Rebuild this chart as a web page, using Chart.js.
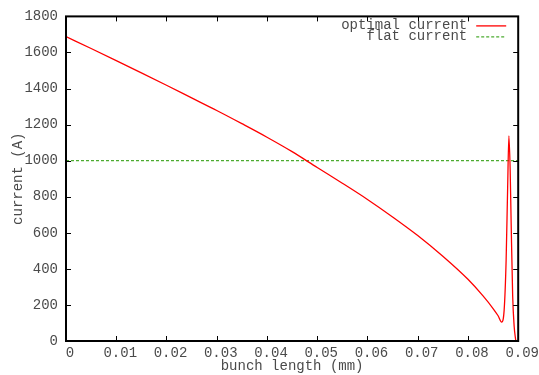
<!DOCTYPE html>
<html>
<head>
<meta charset="utf-8">
<script src="https://cdn.jsdelivr.net/npm/chart.js@4/dist/chart.umd.min.js"></script>
<style>
html,body{margin:0;padding:0;background:#fff;}
#wrap{width:539px;height:375px;}
</style>
</head>
<body>
<div id="wrap"><canvas id="c" width="539" height="375"></canvas></div>
<script>
// ---- data ----
const bunchLength = [0, 0.005, 0.01, 0.015, 0.02, 0.025, 0.03, 0.035, 0.04, 0.045, 0.05, 0.055, 0.06, 0.065, 0.07, 0.075, 0.08, 0.083, 0.085, 0.086, 0.0867, 0.0872, 0.0876, 0.0879, 0.08815, 0.0884, 0.0886, 0.0889, 0.0892, 0.0895];
const optimalCurrent = [1688, 1622, 1555, 1487, 1418, 1348, 1278, 1205, 1130, 1050, 962, 875, 785, 688, 585, 470, 342, 250, 180, 140, 105, 170, 450, 850, 1138, 950, 650, 250, 80, 5];
const flatLength = [0, 0.09];
const flatCurrent = [1000, 1000];
const xTickValues = [0, 0.01, 0.02, 0.03, 0.04, 0.05, 0.06, 0.07, 0.08, 0.09];
const xTickLabels = ['0', '0.01', '0.02', '0.03', '0.04', '0.05', '0.06', '0.07', '0.08', '0.09'];
const yTickValues = [0, 200, 400, 600, 800, 1000, 1200, 1400, 1600, 1800];
const yTickLabels = ['0', '200', '400', '600', '800', '1000', '1200', '1400', '1600', '1800'];
const seriesLabels = ['optimal current', 'flat current'];
const xTitle = 'bunch length (mm)';
const yTitle = 'current (A)';

const FONT = "'Liberation Mono', 'DejaVu Sans Mono', monospace";
const TXT = '#4a4a4a';

const frame = {
  id: 'frame',
  afterDatasetsDraw(chart) {
    const {ctx, chartArea: a, scales: {x, y}} = chart;
    ctx.save();
    ctx.strokeStyle = '#000';
    ctx.lineWidth = 1;
    const L = 5;
    ctx.beginPath();
    xTickValues.forEach(v => {
      const px = Math.round(x.getPixelForValue(v)) + 0.5;
      ctx.moveTo(px, a.bottom); ctx.lineTo(px, a.bottom - L);
      ctx.moveTo(px, a.top); ctx.lineTo(px, a.top + L);
    });
    yTickValues.forEach(v => {
      const py = Math.round(y.getPixelForValue(v)) + 0.5;
      ctx.moveTo(a.left, py); ctx.lineTo(a.left + L, py);
      ctx.moveTo(a.right, py); ctx.lineTo(a.right - L, py);
    });
    ctx.stroke();
    ctx.lineWidth = 2;
    ctx.strokeRect(a.left, a.top, a.right - a.left, a.bottom - a.top);
    // legend
    ctx.font = '14px ' + FONT;
    ctx.fillStyle = TXT;
    ctx.textAlign = 'right';
    ctx.textBaseline = 'middle';
    const tx = a.right - 51, lx0 = a.right - 42, lx1 = a.right - 12;
    chart.data.datasets.forEach((ds, i) => {
      const ty = a.top + 9 + i * 11;
      ctx.fillText(ds.label, tx, ty);
      ctx.strokeStyle = ds.borderColor;
      ctx.lineWidth = ds.borderWidth;
      ctx.setLineDash(ds.borderDash || []);
      ctx.beginPath();
      ctx.moveTo(lx0, ty + 0.5); ctx.lineTo(lx1, ty + 0.5);
      ctx.stroke();
      ctx.setLineDash([]);
    });
    ctx.restore();
  }
};

new Chart(document.getElementById('c'), {
  type: 'line',
  data: {
    datasets: [
      {
        label: seriesLabels[0],
        data: bunchLength.map((v, i) => ({x: v, y: optimalCurrent[i]})),
        borderColor: '#ff0000',
        borderWidth: 1.3,
        pointRadius: 0,
        cubicInterpolationMode: 'monotone',
        fill: false
      },
      {
        label: seriesLabels[1],
        data: flatLength.map((v, i) => ({x: v, y: flatCurrent[i]})),
        borderColor: '#4cab30',
        borderWidth: 1.2,
        borderDash: [3, 2],
        pointRadius: 0,
        fill: false
      }
    ]
  },
  options: {
    responsive: false,
    animation: false,
    layout: {padding: {top: 16, right: 20, left: 0, bottom: 0}},
    plugins: {legend: {display: false}, tooltip: {enabled: false}},
    scales: {
      x: {
        type: 'linear', min: 0, max: 0.09,
        afterBuildTicks: s => { s.ticks = xTickValues.map(v => ({value: v})); },
        afterFit: s => { s.height = 34; },
        grid: {display: false, drawTicks: false},
        border: {display: false},
        ticks: {
          callback: (v, i) => xTickLabels[i],
          font: {family: FONT, size: 14}, color: TXT,
          padding: 4, labelOffset: 4, maxRotation: 0, autoSkip: false
        },
        title: {display: true, text: xTitle, font: {family: FONT, size: 14}, color: TXT, padding: {top: -3, bottom: 0}}
      },
      y: {
        type: 'linear', min: 0, max: 1800,
        afterBuildTicks: s => { s.ticks = yTickValues.map(v => ({value: v})); },
        afterFit: s => { s.width = 66; },
        grid: {display: false, drawTicks: false},
        border: {display: false},
        ticks: {
          callback: (v, i) => yTickLabels[i],
          font: {family: FONT, size: 14}, color: TXT,
          padding: 8, autoSkip: false
        },
        title: {display: true, text: yTitle, font: {family: FONT, size: 14}, color: TXT, padding: {top: 10, bottom: 0}}
      }
    }
  },
  plugins: [frame]
});
</script>
</body>
</html>
